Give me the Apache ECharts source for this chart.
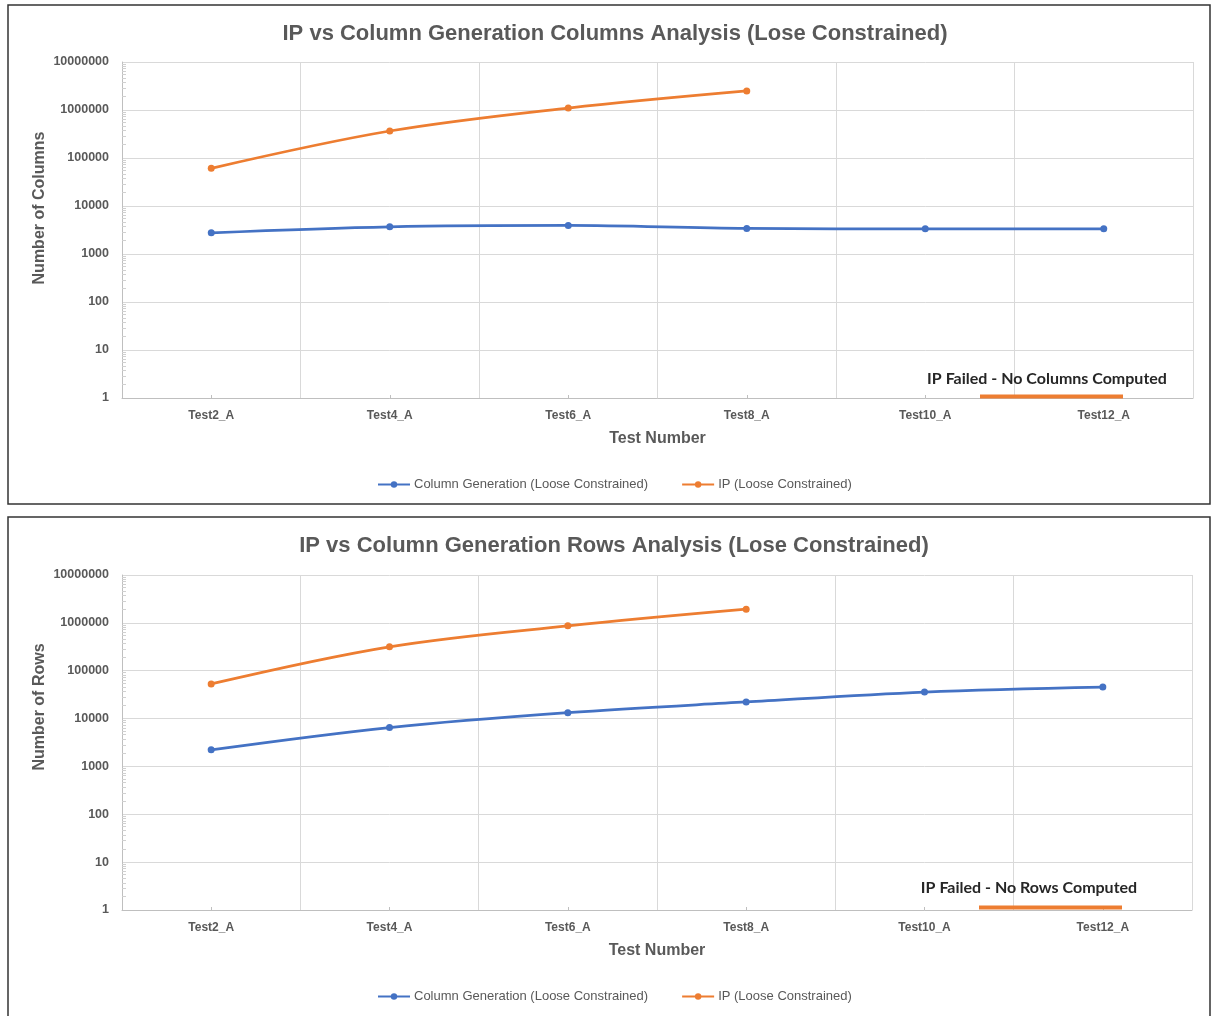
<!DOCTYPE html>
<html>
<head>
<meta charset="utf-8">
<script src="https://cdn.jsdelivr.net/npm/echarts@6/dist/echarts.min.js"></script>
<style>
  html, body { margin: 0; padding: 0; background: #ffffff; }
  #chart { width: 1213px; height: 1016px; }
</style>
</head>
<body>
<div id="chart"></div>
<script>
// ---- Data ----
const categories = ['Test2_A', 'Test4_A', 'Test6_A', 'Test8_A', 'Test10_A', 'Test12_A'];

const columnsCG = [2760, 3680, 3930, 3400, 3350, 3350];
const columnsIP = [61000, 365000, 1100000, 2500000, null, null];

const rowsCG = [2220, 6500, 13300, 22200, 35800, 45500];
const rowsIP = [53000, 316000, 866000, 1930000, null, null];

const titleTop = 'IP vs Column Generation Columns Analysis (Lose Constrained)';
const titleBottom = 'IP vs Column Generation Rows Analysis (Lose Constrained)';
const yNameTop = 'Number of Columns';
const yNameBottom = 'Number of Rows';
const xName = 'Test Number';
const noteTop = 'IP Failed - No Columns Computed';
const noteBottom = 'IP Failed - No Rows Computed';
const seriesNames = ['Column Generation (Loose Constrained)', 'IP (Loose Constrained)'];

// ---- Styles ----
const BLUE = '#4472C4';
const ORANGE = '#ED7D31';
const TXT = '#595959';
const FONT = '"Liberation Sans", Arial, sans-serif';

const chart = echarts.init(document.getElementById('chart'), null, { renderer: 'canvas' });

function xAxisDef(gridIndex) {
  return {
    type: 'category',
    gridIndex: gridIndex,
    data: categories,
    boundaryGap: true,
    name: xName,
    nameLocation: 'middle',
    nameGap: 33,
    nameTextStyle: { color: TXT, fontFamily: FONT, fontWeight: 'bold', fontSize: 16 },
    axisLine: { lineStyle: { color: '#BFBFBF', width: 1 } },
    axisTick: { show: true, inside: true, alignWithLabel: true, length: 3, lineStyle: { color: '#BFBFBF' } },
    axisLabel: { color: TXT, fontFamily: FONT, fontWeight: 'bold', fontSize: 12, margin: 12 },
    splitLine: { show: true, lineStyle: { color: '#D9D9D9', width: 1 } }
  };
}

function yAxisDef(gridIndex) {
  return {
    type: 'log',
    gridIndex: gridIndex,
    logBase: 10,
    min: 1,
    max: 10000000,
    axisLine: { show: true, lineStyle: { color: '#BFBFBF', width: 1 } },
    axisTick: { show: false, inside: true },
    minorTick: { show: true, splitNumber: 10, length: 4, lineStyle: { color: '#D0D0D0' } },
    axisLabel: {
      color: TXT, fontFamily: FONT, fontWeight: 'bold', fontSize: 12.5, margin: 13,
      formatter: function (v) { return String(Math.round(v)); }
    },
    splitLine: { show: true, lineStyle: { color: '#D9D9D9', width: 1 } }
  };
}

function lineSeries(name, data, color, idx) {
  return {
    name: name,
    type: 'line',
    xAxisIndex: idx,
    yAxisIndex: idx,
    data: data,
    smooth: 0.35,
    connectNulls: false,
    symbol: 'circle',
    symbolSize: 7,
    lineStyle: { color: color, width: 2.75 },
    itemStyle: { color: color },
    emphasis: { disabled: true },
    z: 3
  };
}

function legendDef(top) {
  return {
    top: top,
    left: 372,
    data: seriesNames,
    itemWidth: 32,
    itemHeight: 8,
    itemGap: 33,
    textStyle: { color: TXT, fontFamily: FONT, fontSize: 13, padding: [0, 0, 0, -1] }
  };
}

const option = {
  animation: false,
  backgroundColor: '#ffffff',
  title: [
    { text: titleTop, left: 610, textAlign: 'center', top: 18,
      textStyle: { color: TXT, fontFamily: FONT, fontWeight: 'bold', fontSize: 22 } },
    { text: titleBottom, left: 609, textAlign: 'center', top: 530,
      textStyle: { color: TXT, fontFamily: FONT, fontWeight: 'bold', fontSize: 22 } }
  ],
  legend: [legendDef(473), legendDef(985)],
  grid: [
    { left: 122, right: 20, top: 62, height: 336, containLabel: false },
    { left: 122, right: 21, top: 575, height: 335, containLabel: false }
  ],
  xAxis: [xAxisDef(0), xAxisDef(1)],
  yAxis: [yAxisDef(0), yAxisDef(1)],
  series: [
    lineSeries(seriesNames[0], columnsCG, BLUE, 0),
    lineSeries(seriesNames[1], columnsIP, ORANGE, 0),
    lineSeries(seriesNames[0], rowsCG, BLUE, 1),
    lineSeries(seriesNames[1], rowsIP, ORANGE, 1)
  ],
  graphic: [
    // frames
    { type: 'rect', shape: { x: 8, y: 5, width: 1202, height: 499 },
      style: { fill: null, stroke: '#333333', lineWidth: 1.5 }, z: 10, silent: true },
    { type: 'rect', shape: { x: 8, y: 517, width: 1202, height: 510 },
      style: { fill: null, stroke: '#333333', lineWidth: 1.5 }, z: 10, silent: true },
    // y-axis names
    { type: 'text', x: 40, y: 208, rotation: Math.PI / 2,
      style: { text: yNameTop, fill: TXT, font: 'bold 16px ' + FONT, textAlign: 'center', textVerticalAlign: 'middle' } },
    { type: 'text', x: 40, y: 707, rotation: Math.PI / 2,
      style: { text: yNameBottom, fill: TXT, font: 'bold 16px ' + FONT, textAlign: 'center', textVerticalAlign: 'middle' } },
    // annotations
    { type: 'text', x: 1047, y: 379,
      style: { text: noteTop, fill: '#262626', font: 'bold 16px Lato, "Liberation Sans", sans-serif', textAlign: 'center', textVerticalAlign: 'middle' }, z: 5 },
    { type: 'line', shape: { x1: 980, y1: 396.5, x2: 1123, y2: 396.5 },
      style: { stroke: ORANGE, lineWidth: 4 }, z: 5 },
    { type: 'text', x: 1029, y: 888,
      style: { text: noteBottom, fill: '#262626', font: 'bold 16px Lato, "Liberation Sans", sans-serif', textAlign: 'center', textVerticalAlign: 'middle' }, z: 5 },
    { type: 'line', shape: { x1: 979, y1: 907.5, x2: 1122, y2: 907.5 },
      style: { stroke: ORANGE, lineWidth: 4 }, z: 5 }
  ]
};

chart.setOption(option);
</script>
</body>
</html>
